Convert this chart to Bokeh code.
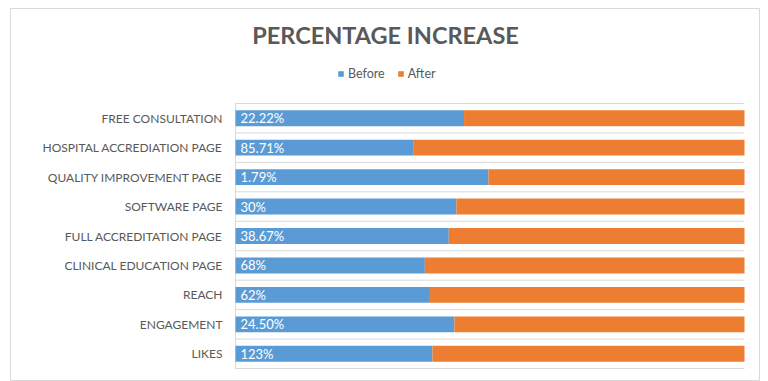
from bokeh.plotting import figure
from bokeh.models import (Range1d, Label, Legend, LegendItem, ColumnDataSource)
from bokeh.core.properties import value
from bokeh.embed import file_html
from bokeh.resources import INLINE
import numpy as np

categories = ["FREE CONSULTATION", "HOSPITAL ACCREDIATION PAGE", "QUALITY IMPROVEMENT PAGE",
              "SOFTWARE PAGE", "FULL ACCREDITATION PAGE", "CLINICAL EDUCATION PAGE",
              "REACH", "ENGAGEMENT", "LIKES"]
before_share = [0.449, 0.349, 0.497, 0.434, 0.419, 0.372, 0.382, 0.430, 0.387]
after_share = [0.551, 0.651, 0.503, 0.566, 0.581, 0.628, 0.618, 0.570, 0.613]
increase_labels = ["22.22%", "85.71%", "1.79%", "30%", "38.67%", "68%", "62%", "24.50%", "123%"]

BLUE = "#5B9BD5"
ORANGE = "#ED7D31"
GRID = "#D9D9D9"
TEXT = "#595959"
FONT = "Lato"

# layout (pixels inside the figure)
W, H = 750, 373
PLOT_L, PLOT_R = 225, 734      # bar area left/right
PLOT_T, PLOT_B = 95, 360       # bar area top/bottom

n = len(categories)
ypos = (np.arange(n)[::-1] + 0.5).tolist()
bounds = np.arange(n + 1).tolist()

px_x = (PLOT_R - PLOT_L)          # pixels per unit share
px_y = (PLOT_B - PLOT_T) / n      # pixels per row
x_range = Range1d(-PLOT_L / px_x, 1 + (W - PLOT_R) / px_x)
y_range = Range1d(-(H - PLOT_B) / px_y, n + PLOT_T / px_y)

src = ColumnDataSource(dict(y=ypos, before=before_share, after=after_share,
                            lab=increase_labels, cat=categories,
                            zero=[0.0] * n))
grid_src = ColumnDataSource(dict(y=bounds, x0=[0.0] * (n + 1), x1=[1.0] * (n + 1)))

p = figure(width=W, height=H, output_backend="svg", toolbar_location=None,
           x_range=x_range, y_range=y_range, x_axis_type=None, y_axis_type=None,
           min_border=0, margin=(8, 8, 0, 10))
p.outline_line_color = GRID
p.background_fill_color = "white"
p.border_fill_color = "white"
p.grid.visible = False

# horizontal grid lines at row boundaries, and the category axis line
p.segment(x0="x0", y0="y", x1="x1", y1="y", source=grid_src, line_color=GRID, line_width=1)
p.segment(x0=[0.0], y0=[bounds[0]], x1=[0.0], y1=[bounds[-1]], line_color=GRID, line_width=1)

rs = p.hbar_stack(["before", "after"], y="y", height=0.54, color=[BLUE, ORANGE],
                  source=src, line_color=None)

# value labels inside the blue bars
p.text(x="zero", y="y", text="lab", source=src, x_offset=5, text_align="left",
       text_baseline="middle", text_color="white", text_font_size="13px",
       text_font=value(FONT))

# category labels
p.text(x="zero", y="y", text="cat", source=src, x_offset=-13, text_align="right",
       text_baseline="middle", text_color=TEXT, text_font_size="12px",
       text_font=value(FONT))

title = Label(x=375, y=347, x_units="screen", y_units="screen",
              text="PERCENTAGE INCREASE", text_align="center", text_baseline="middle",
              text_font=FONT, text_font_size="23.5px", text_font_style="bold",
              text_color=TEXT)
p.add_layout(title)

legend = Legend(items=[LegendItem(label="Before", renderers=[rs[0]]),
                       LegendItem(label="After", renderers=[rs[1]])],
                location=(327, 300), orientation="horizontal",
                padding=0, margin=0, spacing=12, label_standoff=4,
                glyph_width=7, glyph_height=7, label_height=14,
                label_text_font=FONT, label_text_font_size="12.5px",
                label_text_color=TEXT, border_line_color=None,
                background_fill_alpha=0)
p.add_layout(legend)

open("out.html", "w").write(file_html(p, INLINE))
